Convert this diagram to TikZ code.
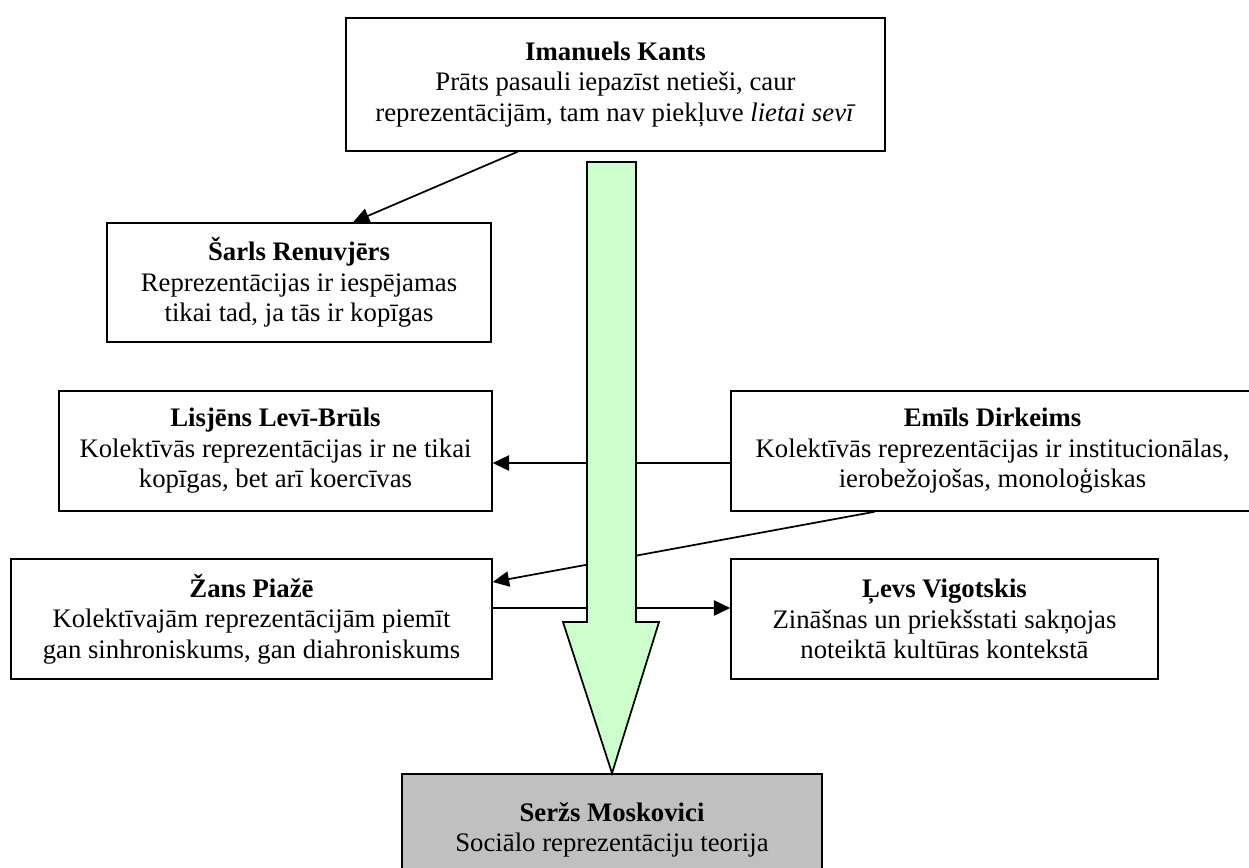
\documentclass[tikz,border=0pt]{standalone}
\usepackage{fontspec}
\setmainfont{Liberation Serif}
\usetikzlibrary{arrows.meta,calc}
\definecolor{shaftgreen}{HTML}{CCFFCC}
\definecolor{moskgray}{HTML}{C0C0C0}
\begin{document}
\begin{tikzpicture}[x=0.46pt,y=-0.46pt,
    box/.style 2 args={draw,line width=0.7pt,inner sep=0pt,align=center,
      font=\fontsize{12.3}{14}\selectfont,minimum width=#1*0.46pt,minimum height=#2*0.46pt},
    arr/.style={line width=0.8pt,-{Triangle[length=7.5pt,width=7pt]}}]
      \useasboundingbox (0,0) rectangle (1249,867);
      \node[box={539}{133}] (kant) at (615.5,84.5) {\textbf{Imanuels Kants}\\Prāts pasauli iepazīst netieši, caur\\reprezentācijām, tam nav piekļuve \textit{lietai sevī}};
      \node[box={384}{119}] (renu) at (299,282.5) {\textbf{Šarls Renuvjērs}\\Reprezentācijas ir iespējamas\\tikai tad, ja tās ir kopīgas};
      \node[box={433}{120}] (levi) at (275.5,451) {\textbf{Lisjēns Levī-Brūls}\\Kolektīvās reprezentācijas ir ne tikai\\kopīgas, bet arī koercīvas};
      \node[box={523}{120}] (dirk) at (992.5,451) {\textbf{Emīls Dirkeims}\\Kolektīvās reprezentācijas ir institucionālas,\\ierobežojošas, monoloģiskas};
      \node[box={481}{120}] (piaz) at (251.5,619) {\textbf{Žans Piažē}\\Kolektīvajām reprezentācijām piemīt\\gan sinhroniskums, gan diahroniskums};
      \node[box={427}{120}] (vigo) at (944.5,619) {\textbf{Ļevs Vigotskis}\\Zināšnas un priekšstati sakņojas\\noteiktā kultūras kontekstā};
      \node[box={420}{112},fill=moskgray] (mosk) at (612,830) {\textbf{Seržs Moskovici}\\Sociālo reprezentāciju teorija};
      % connectors
      \draw[arr] ($(kant.south)+(-98,0)$) -- ($(renu.north)+(54,0)$);
      \draw[arr] ($(dirk.west)+(0,12)$) -- ($(levi.east)+(0,12)$);
      \draw[arr] ($(dirk.south)+(-118,0)$) -- ($(piaz.east)+(0,-37)$);
      \draw[arr] ($(piaz.east)+(0,-11)$) -- ($(vigo.west)+(0,-11)$);
      % big arrow
      \filldraw[fill=shaftgreen,line width=0.8pt] (587,162) -- (636,162) -- (636,622) -- (659,622) -- (mosk.north) -- (563,622) -- (587,622) -- cycle;
\end{tikzpicture}
\end{document}
